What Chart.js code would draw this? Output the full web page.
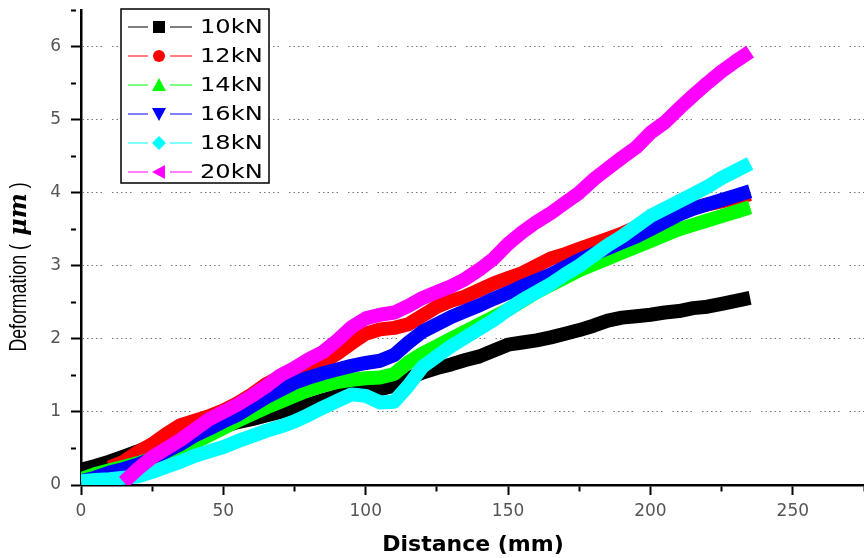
<!DOCTYPE html>
<html>
<head>
<meta charset="utf-8">
<script src="https://cdn.jsdelivr.net/npm/chart.js@4/dist/chart.umd.min.js"></script>
<style>
  html, body { margin: 0; padding: 0; background: #fff; }
  #wrap { width: 864px; height: 558px; }
</style>
</head>
<body>
<div id="wrap"><canvas id="chart" width="864" height="558"></canvas></div>
<script>
// Distance along the specimen (mm) at which deformation was sampled
const distanceMm = [0, 5, 10, 15, 20, 25, 30, 35, 40, 45, 50, 55, 60, 65, 70, 75, 80, 85, 90, 95,
  100, 105, 110, 115, 120, 125, 130, 135, 140, 145, 150, 155, 160, 165, 170, 175, 180, 185, 190, 195,
  200, 205, 210, 215, 220, 225, 230, 235];

// Deformation (um) for each applied load
const load10kN = [0.21, 0.26, 0.32, 0.39, 0.46, 0.54, 0.6, 0.65, 0.7, 0.75, 0.8, 0.86, 0.9, 0.95, 1.0, 1.05,
  1.1, 1.16, 1.22, 1.3, 1.33, 1.31, 1.36, 1.46, 1.54, 1.6, 1.65, 1.71, 1.76, 1.84, 1.92, 1.95, 1.98, 2.02,
  2.07, 2.12, 2.18, 2.25, 2.29, 2.31, 2.33, 2.36, 2.38, 2.42, 2.44, 2.48, 2.52, 2.56];
const load12kN = [null, null, 0.24, 0.32, 0.45, 0.56, 0.7, 0.82, 0.88, 0.94, 1.02, 1.12, 1.24, 1.38, 1.48, 1.54,
  1.6, 1.68, 1.8, 1.94, 2.07, 2.13, 2.15, 2.2, 2.32, 2.44, 2.52, 2.58, 2.67, 2.76, 2.83, 2.9, 3.0, 3.1,
  3.16, 3.23, 3.3, 3.37, 3.44, 3.53, 3.6, 3.66, 3.73, 3.79, 3.84, 3.88, 3.93, 3.98];
const load14kN = [0.08, 0.15, 0.2, 0.25, 0.3, 0.36, 0.42, 0.5, 0.58, 0.68, 0.78, 0.88, 0.97, 1.06, 1.14, 1.22,
  1.3, 1.36, 1.41, 1.44, 1.46, 1.47, 1.52, 1.68, 1.8, 1.9, 2.0, 2.1, 2.2, 2.3, 2.4, 2.52, 2.64, 2.74,
  2.84, 2.94, 3.02, 3.1, 3.18, 3.26, 3.34, 3.42, 3.5, 3.56, 3.62, 3.68, 3.74, 3.8];
const load16kN = [0.05, 0.1, 0.17, 0.22, 0.28, 0.36, 0.46, 0.56, 0.68, 0.77, 0.87, 0.96, 1.08, 1.2, 1.3, 1.4,
  1.47, 1.53, 1.58, 1.63, 1.67, 1.7, 1.78, 1.95, 2.1, 2.2, 2.3, 2.38, 2.46, 2.55, 2.63, 2.72, 2.8, 2.88,
  2.98, 3.08, 3.16, 3.24, 3.32, 3.4, 3.5, 3.6, 3.7, 3.78, 3.84, 3.9, 3.96, 4.02];
const load18kN = [0.05, 0.07, 0.08, 0.1, 0.12, 0.18, 0.25, 0.32, 0.4, 0.46, 0.52, 0.6, 0.67, 0.74, 0.8, 0.87,
  0.96, 1.06, 1.15, 1.24, 1.22, 1.13, 1.14, 1.36, 1.62, 1.76, 1.9, 2.02, 2.14, 2.26, 2.4, 2.53, 2.64, 2.75,
  2.88, 3.0, 3.14, 3.28, 3.4, 3.54, 3.68, 3.78, 3.88, 3.98, 4.08, 4.2, 4.3, 4.4];
const load20kN = [null, null, null, 0.04, 0.22, 0.38, 0.5, 0.62, 0.76, 0.9, 1.0, 1.1, 1.22, 1.35, 1.5, 1.6,
  1.72, 1.82, 1.98, 2.16, 2.28, 2.33, 2.36, 2.45, 2.56, 2.64, 2.72, 2.82, 2.95, 3.1, 3.3, 3.46, 3.6, 3.72,
  3.86, 4.0, 4.18, 4.33, 4.48, 4.62, 4.82, 4.96, 5.15, 5.33, 5.5, 5.66, 5.8, 5.93];

const seriesNames = ['10kN', '12kN', '14kN', '16kN', '18kN', '20kN'];
const seriesValues = [load10kN, load12kN, load14kN, load16kN, load18kN, load20kN];
const seriesColors = ['#000000', '#ff0000', '#00ff00', '#0000ff', '#00ffff', '#ff00ff'];
const seriesMarkers = ['square', 'circle', 'triangleUp', 'triangleDown', 'diamond', 'triangleLeft'];

const xTicksMajor = [0, 50, 100, 150, 200, 250];
const yTicksMajor = [0, 1, 2, 3, 4, 5, 6];

const X_TITLE = 'Distance (mm)';
const Y_TITLE_MAIN = 'Deformation';
const Y_TITLE_UNIT = 'μm';

const FONT = '"Liberation Sans", Arial, Helvetica, sans-serif';
const WIDE_FONT = '"DejaVu Sans", Verdana, sans-serif';

const datasets = seriesValues.map((vals, i) => ({
  label: seriesNames[i],
  data: vals.map((v, k) => ({ x: distanceMm[k], y: v })),
  borderColor: seriesColors[i],
  backgroundColor: seriesColors[i],
  borderWidth: 14,
  borderJoinStyle: 'round',
  pointRadius: 0,
  tension: 0,
  fill: false,
  clip: 0,
  order: seriesValues.length - 1 - i   // heavier loads drawn on top
}));

function drawMarker(ctx, shape, x, y, r) {
  ctx.beginPath();
  switch (shape) {
    case 'square': ctx.rect(x - r, y - r, 2 * r, 2 * r); break;
    case 'circle': ctx.arc(x, y, r, 0, Math.PI * 2); break;
    case 'triangleUp': ctx.moveTo(x, y - r - 1); ctx.lineTo(x + r + 1, y + r); ctx.lineTo(x - r - 1, y + r); break;
    case 'triangleDown': ctx.moveTo(x, y + r + 1); ctx.lineTo(x + r + 1, y - r); ctx.lineTo(x - r - 1, y - r); break;
    case 'diamond': ctx.moveTo(x, y - r - 1); ctx.lineTo(x + r + 1, y); ctx.lineTo(x, y + r + 1); ctx.lineTo(x - r - 1, y); break;
    case 'triangleLeft': ctx.moveTo(x - r - 1, y); ctx.lineTo(x + r, y - r - 1); ctx.lineTo(x + r, y + r + 1); break;
  }
  ctx.closePath();
  ctx.fill();
}

// Boxed legend inside the plot, upper left
const boxLegend = {
  id: 'boxLegend',
  afterDatasetsDraw(chart) {
    const { ctx, chartArea } = chart;
    const bx = chartArea.left + 40, by = chartArea.top - 1, bw = 148, bh = 174;
    ctx.save();
    ctx.fillStyle = '#ffffff';
    ctx.fillRect(bx, by, bw, bh);
    ctx.strokeStyle = '#000';
    ctx.lineWidth = 1.5;
    ctx.strokeRect(bx, by, bw, bh);
    ctx.font = '19px ' + WIDE_FONT;
    ctx.textBaseline = 'middle';
    ctx.textAlign = 'left';
    chart.data.datasets.forEach((ds, i) => {
      const y = by + 18 + i * 29;
      const mx = bx + 38;
      ctx.strokeStyle = ds.borderColor;
      ctx.lineWidth = 1.2;
      ctx.beginPath();
      ctx.moveTo(bx + 7, y); ctx.lineTo(mx - 11, y);
      ctx.moveTo(mx + 11, y); ctx.lineTo(bx + 71, y);
      ctx.stroke();
      ctx.fillStyle = ds.borderColor;
      drawMarker(ctx, seriesMarkers[i], mx, y, 6);
      ctx.fillStyle = '#000';
      ctx.save();
      ctx.translate(bx + 79, y + 1);
      ctx.scale(1.27, 1);
      ctx.fillText(ds.label, 0, 0);
      ctx.restore();
    });
    ctx.restore();
  }
};

// Axis titles: bold horizontal title, condensed vertical title with italic unit
const axisTitles = {
  id: 'axisTitles',
  afterDraw(chart) {
    const { ctx, chartArea } = chart;
    ctx.save();
    ctx.fillStyle = '#000';
    ctx.textBaseline = 'middle';
    ctx.textAlign = 'center';
    ctx.font = 'bold 22px ' + WIDE_FONT;
    ctx.fillText(X_TITLE, 473, chartArea.bottom + 60);

    const mainFont = '24px ' + FONT;
    const unitFont = 'italic bold 25px "DejaVu Serif", "Liberation Serif", serif';
    const sx = 0.74, su = 0.95;
    ctx.font = mainFont;
    const wMain = ctx.measureText(Y_TITLE_MAIN + ' (').width * sx;
    const wClose = ctx.measureText(' )').width * sx;
    ctx.font = unitFont;
    const wUnit = ctx.measureText(' ' + Y_TITLE_UNIT).width * su;
    const total = wMain + wUnit + wClose;
    ctx.translate(19, 267);
    ctx.rotate(-Math.PI / 2);
    ctx.textAlign = 'left';
    let x0 = -total / 2;
    ctx.save(); ctx.translate(x0, 0); ctx.scale(sx, 1); ctx.font = mainFont;
    ctx.fillText(Y_TITLE_MAIN + ' (', 0, 0); ctx.restore();
    x0 += wMain;
    ctx.save(); ctx.translate(x0, 0); ctx.scale(su, 1); ctx.font = unitFont;
    ctx.fillText(' ' + Y_TITLE_UNIT, 0, 0); ctx.restore();
    x0 += wUnit;
    ctx.save(); ctx.translate(x0, 0); ctx.scale(sx, 1); ctx.font = mainFont;
    ctx.fillText(' )', 0, 0); ctx.restore();
    ctx.restore();
  }
};

const gridDots = [1.5, 3, 1.5, 3, 1.5, 3, 1.5, 3, 1.5, 10];

new Chart(document.getElementById('chart'), {
  type: 'line',
  data: { datasets },
  options: {
    responsive: false,
    animation: false,
    devicePixelRatio: 1,
    layout: { padding: 0 },
    plugins: { legend: { display: false }, tooltip: { enabled: false } },
    scales: {
      x: {
        type: 'linear',
        min: 0,
        max: 275,
        afterFit(scale) { scale.height = 73; scale.paddingRight = 0; },
        ticks: {
          stepSize: 25,
          autoSkip: false,
          maxRotation: 0,
          padding: 6,
          color: '#555',
          font: { family: WIDE_FONT, size: 17 },
          callback: v => (xTicksMajor.includes(v) ? String(v) : '')
        },
        grid: {
          drawOnChartArea: false,
          tickLength: 10,
          tickWidth: 2,
          tickColor: '#000',
          tickBorderDash: c => (c.tick && xTicksMajor.includes(c.tick.value) ? [] : [5, 40])
        },
        border: { color: '#000', width: 2.5 }
      },
      y: {
        min: 0,
        max: 6.5,
        afterFit(scale) { scale.width = 81; scale.paddingTop = 10; scale.paddingBottom = 0; },
        ticks: {
          stepSize: 0.5,
          autoSkip: false,
          padding: 10,
          color: '#555',
          font: { family: WIDE_FONT, size: 17 },
          callback: v => (yTicksMajor.includes(v) ? String(v) : '')
        },
        grid: {
          color: c => (c.tick && yTicksMajor.includes(c.tick.value) && c.tick.value > 0 ? '#777' : 'rgba(0,0,0,0)'),
          lineWidth: 1,
          tickLength: 10,
          tickWidth: 2,
          tickColor: '#000',
          tickBorderDash: c => (c.tick && yTicksMajor.includes(c.tick.value) ? [] : [5, 40])
        },
        border: { color: '#000', width: 2.5, dash: gridDots }
      }
    }
  },
  plugins: [boxLegend, axisTitles]
});
</script>
</body>
</html>
